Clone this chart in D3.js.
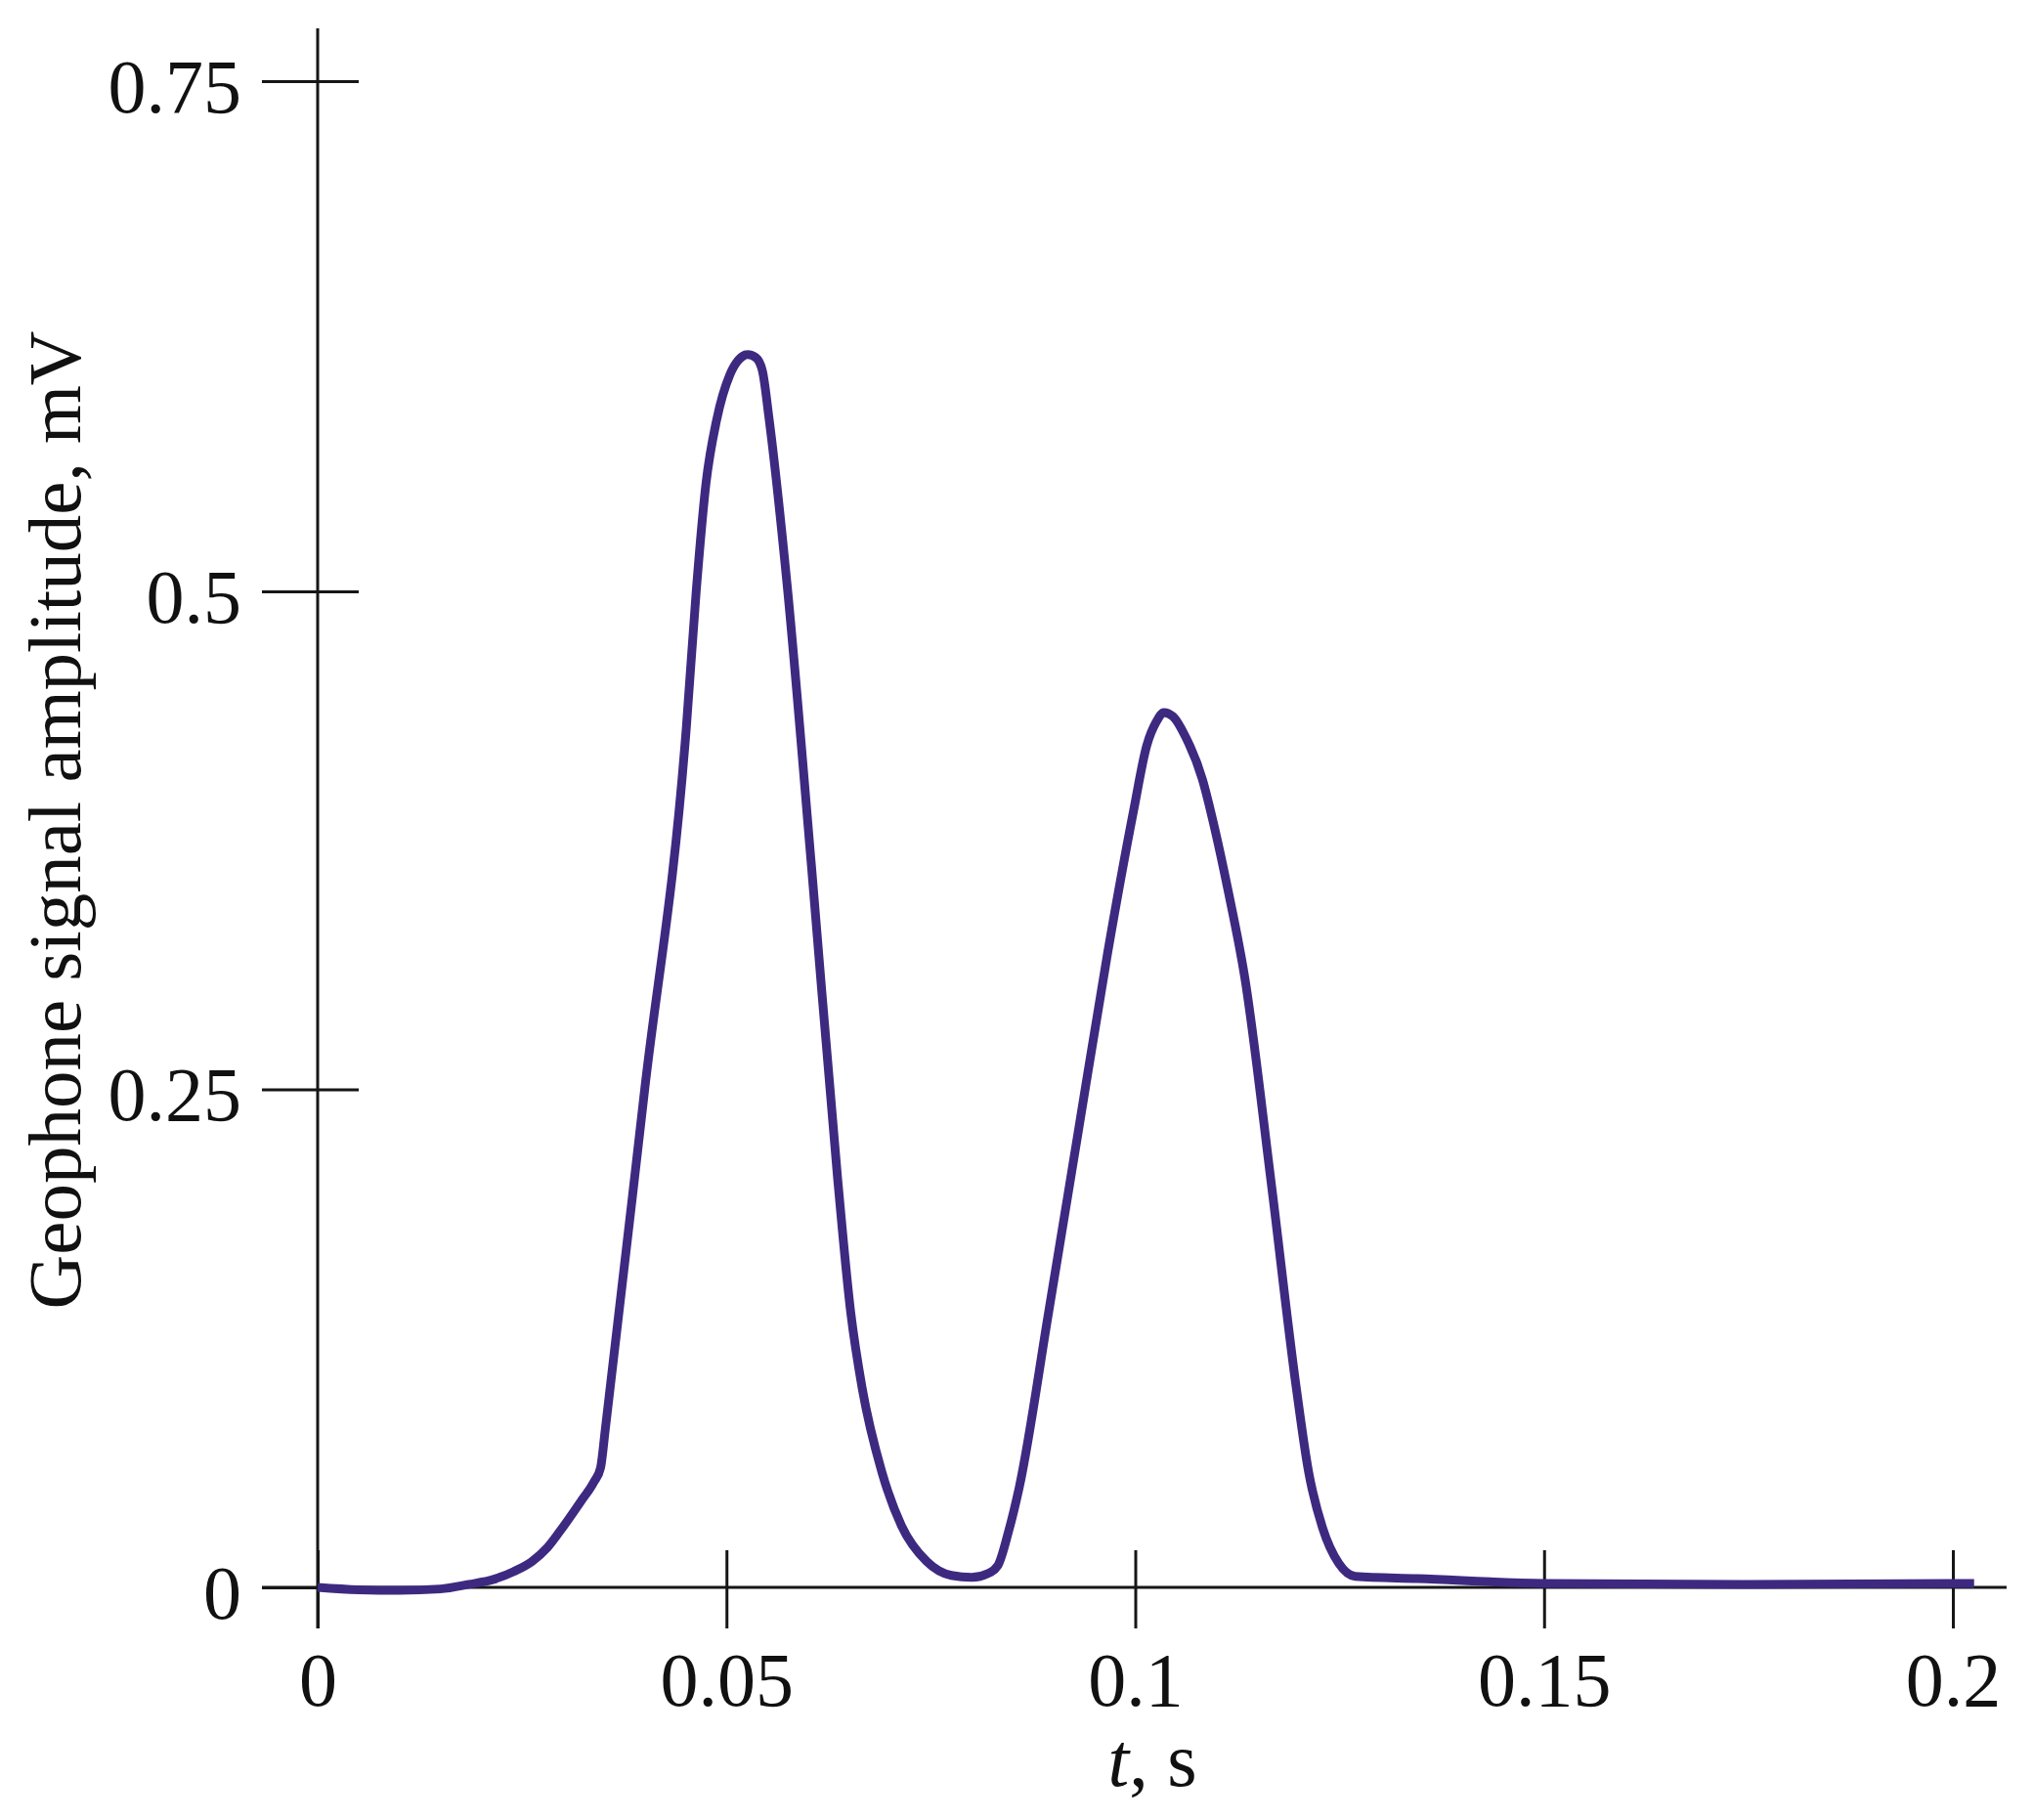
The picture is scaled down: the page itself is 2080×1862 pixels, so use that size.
<!DOCTYPE html>
<html>
<head>
<meta charset="utf-8">
<script src="https://cdn.jsdelivr.net/npm/d3@7"></script>
<style>
  html, body { margin: 0; padding: 0; background: #ffffff; }
  svg { display: block; }
  text { font-family: "Liberation Serif", "Times New Roman", "DejaVu Serif", serif; fill: #111; }
</style>
</head>
<body>
<svg id="chart" width="2080" height="1862"></svg>
<script>
// ---- data ----
const timeS = [0, 0.005, 0.010, 0.015, 0.0185, 0.0215, 0.0240, 0.0262, 0.0281, 0.0296, 0.0322, 0.0338, 0.0346,
  0.0352, 0.0400, 0.0451, 0.0463, 0.0475, 0.0488, 0.0504, 0.0515, 0.0526, 0.0536, 0.0544, 0.0552, 0.0574, 0.0604,
  0.0636, 0.0652, 0.0666, 0.0690, 0.0714, 0.0745, 0.0775, 0.0800, 0.0820, 0.0832, 0.0845, 0.0858, 0.0894, 0.0930,
  0.0966, 0.0998, 0.1014, 0.1026, 0.1035, 0.1046, 0.1061, 0.1082, 0.1097, 0.1114, 0.1134, 0.1166, 0.1197, 0.1212,
  0.1229, 0.1249, 0.1269, 0.1345, 0.1500, 0.1750, 0.2000, 0.2026];
const amplitudeMV = [0, -0.0012, -0.0015, -0.0008, 0.0015, 0.004, 0.008, 0.013, 0.020, 0.028, 0.0432, 0.053, 0.060,
  0.080, 0.250, 0.432, 0.500, 0.553, 0.584, 0.606, 0.6135, 0.616, 0.6145, 0.608, 0.585, 0.504, 0.362,
  0.205, 0.138, 0.100, 0.058, 0.031, 0.013, 0.006, 0.005, 0.007, 0.011, 0.028, 0.050, 0.138, 0.228,
  0.318, 0.390, 0.4225, 0.4347, 0.4392, 0.4372, 0.4274, 0.4058, 0.3813, 0.3489, 0.306, 0.204, 0.100, 0.058,
  0.030, 0.012, 0.0055, 0.0044, 0.002, 0.0015, 0.002, 0.002];
const xTickValues = [0, 0.05, 0.1, 0.15, 0.2];
const xTickLabels = ["0", "0.05", "0.1", "0.15", "0.2"];
const yTickValues = [0, 0.25, 0.5, 0.75];
const yTickLabels = ["0", "0.25", "0.5", "0.75"];
const yTitle = "Geophone signal amplitude, mV";

const points = timeS.map((t, i) => ({ t, v: amplitudeMV[i] }));

// ---- layout ----
const svg = d3.select("#chart");
const x = d3.scaleLinear().domain([0, 0.2]).range([325, 1998]);
const y = d3.scaleLinear().domain([0, 0.5, 0.75]).range([1624, 605, 83]);
const axisColor = "#161616";
const fontSize = 78;

// axis lines
svg.append("line")
  .attr("x1", 268).attr("x2", 2053)
  .attr("y1", y(0)).attr("y2", y(0))
  .attr("stroke", axisColor).attr("stroke-width", 3);
svg.append("line")
  .attr("x1", x(0)).attr("x2", x(0))
  .attr("y1", 29).attr("y2", 1666)
  .attr("stroke", axisColor).attr("stroke-width", 3);

// x axis
const xAxis = svg.append("g")
  .attr("transform", `translate(0,${y(0)})`)
  .call(d3.axisBottom(x).tickValues(xTickValues)
    .tickFormat((d, i) => xTickLabels[i]).tickSizeOuter(0));
xAxis.select(".domain").remove();
xAxis.selectAll(".tick line")
  .attr("y1", -38).attr("y2", 42)
  .attr("stroke", axisColor).attr("stroke-width", 3);
xAxis.selectAll(".tick text")
  .attr("y", 121).attr("dy", 0)
  .attr("font-size", fontSize)
  .attr("font-family", "Liberation Serif, Times New Roman, serif")
  .attr("fill", "#111");

// y axis
const yAxis = svg.append("g")
  .attr("transform", `translate(${x(0)},0)`)
  .call(d3.axisLeft(y).tickValues(yTickValues)
    .tickFormat((d, i) => yTickLabels[i]).tickSizeOuter(0));
yAxis.select(".domain").remove();
yAxis.selectAll(".tick line")
  .attr("x1", -57).attr("x2", 42)
  .attr("stroke", axisColor).attr("stroke-width", 3);
yAxis.selectAll(".tick text")
  .attr("x", -78).attr("dy", "0.4em")
  .attr("text-anchor", "end")
  .attr("font-size", fontSize)
  .attr("font-family", "Liberation Serif, Times New Roman, serif")
  .attr("fill", "#111");

// signal curve
const line = d3.line()
  .x(d => x(d.t))
  .y(d => y(d.v))
  .curve(d3.curveMonotoneX);
svg.append("path")
  .datum(points)
  .attr("d", line)
  .attr("fill", "none")
  .attr("stroke", "#3d2a80")
  .attr("stroke-width", 9)
  .attr("stroke-linejoin", "round")
  .attr("stroke-linecap", "butt");

// x title
const xt = svg.append("text")
  .attr("x", 1179).attr("y", 1827)
  .attr("text-anchor", "middle")
  .attr("font-size", fontSize);
xt.append("tspan").attr("font-style", "italic").text("t");
xt.append("tspan").text(", s");

// y title
svg.append("text")
  .attr("transform", "translate(82,839) rotate(-90)")
  .attr("text-anchor", "middle")
  .attr("font-size", 77)
  .text(yTitle);
</script>
</body>
</html>
